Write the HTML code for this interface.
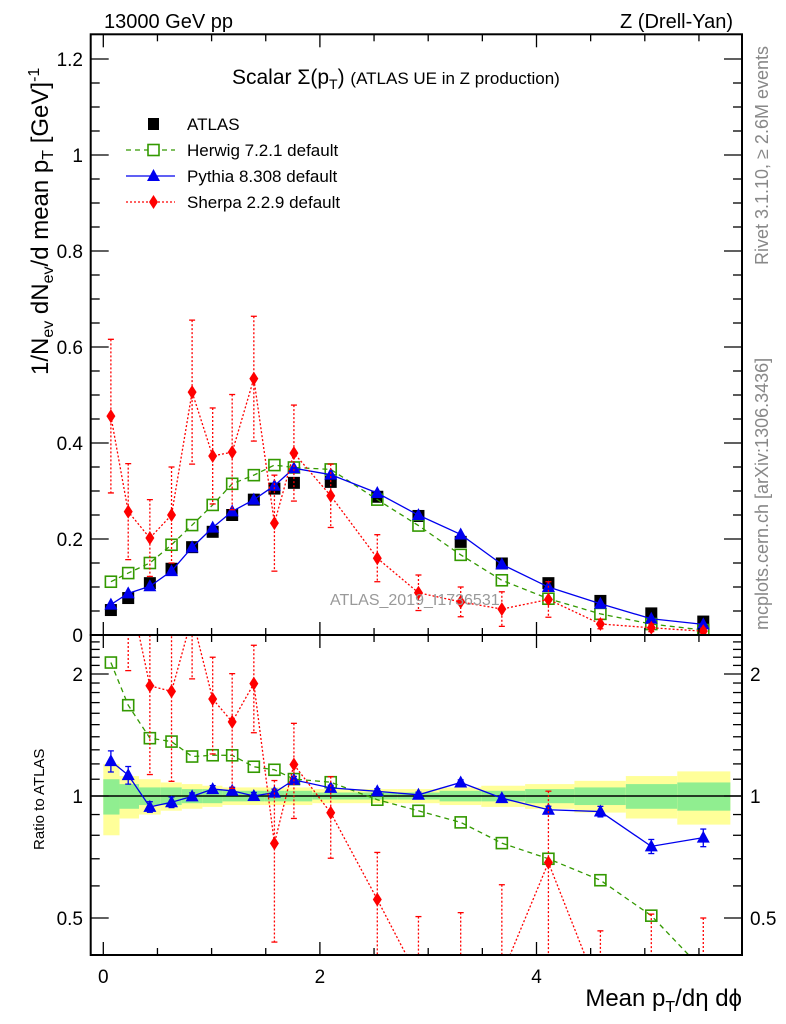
<!DOCTYPE html>
<html><head><meta charset="utf-8"><style>
html,body{margin:0;padding:0;background:#fff;overflow:hidden;width:786px;height:1024px}
svg{display:block;position:absolute;left:0;top:0;font-family:"Liberation Sans",sans-serif}
</style></head><body>
<svg id="c" width="786" height="1024" xmlns="http://www.w3.org/2000/svg">
<g id="g"></g>
<g font-family="Liberation Sans, sans-serif">
<text x="104" y="28" font-size="20">13000 GeV pp</text>
<text x="733" y="28" font-size="20" text-anchor="end">Z (Drell-Yan)</text>
<text x="232" y="84" font-size="21">Scalar Σ(p<tspan font-size="14" dy="5">T</tspan><tspan dy="-5">) </tspan><tspan font-size="17">(ATLAS UE in Z production)</tspan></text>
<g>
<rect x="148" y="118" width="11" height="12" fill="#000"/>
<text x="187" y="130" font-size="17">ATLAS</text>
<line x1="126" x2="175" y1="150" y2="150" stroke="#339900" stroke-width="1.3" stroke-dasharray="5,4"/>
<rect x="148" y="144.5" width="11" height="11" fill="#fff" stroke="#339900" stroke-width="1.6"/>
<text x="187" y="156" font-size="17">Herwig 7.2.1 default</text>
<line x1="126" x2="175" y1="176" y2="176" stroke="#0000ee" stroke-width="1.3"/>
<polygon points="153.5,169 147,181 160,181" fill="#0000ee"/>
<text x="187" y="182" font-size="17">Pythia 8.308 default</text>
<line x1="126" x2="175" y1="202" y2="202" stroke="#ff0000" stroke-width="1.3" stroke-dasharray="2,2"/>
<polygon points="153.5,195 149,202 153.5,209 158,202" fill="#ff0000"/>
<text x="187" y="208" font-size="17">Sherpa 2.2.9 default</text>
</g>
<text x="330" y="605" font-size="16" fill="#999">ATLAS_2019_I1736531</text>
<text transform="translate(48,375) rotate(-90)" font-size="24">1/N<tspan font-size="16" dy="5">ev</tspan><tspan dy="-5"> dN</tspan><tspan font-size="16" dy="5">ev</tspan><tspan dy="-5">/d mean p</tspan><tspan font-size="16" dy="5">T</tspan><tspan dy="-5"> [GeV]</tspan><tspan font-size="16" dy="-9">-1</tspan></text>
<text transform="translate(44,850) rotate(-90)" font-size="15">Ratio to ATLAS</text>
<text transform="translate(768,265) rotate(-90)" font-size="18" fill="#888">Rivet 3.1.10, ≥ 2.6M events</text>
<text transform="translate(768,630) rotate(-90)" font-size="18" fill="#888">mcplots.cern.ch [arXiv:1306.3436]</text>
<text x="742" y="1006" font-size="24" text-anchor="end">Mean p<tspan font-size="16" dy="6">T</tspan><tspan dy="-6">/dη dϕ</tspan></text>
</g>
</svg>
<script>
const xVals=[0.07,0.23,0.43,0.63,0.82,1.01,1.19,1.39,1.58,1.76,2.1,2.53,2.91,3.3,3.68,4.11,4.59,5.06,5.54];
const atlas=[0.052,0.077,0.108,0.138,0.183,0.215,0.25,0.282,0.305,0.317,0.319,0.288,0.248,0.194,0.149,0.108,0.071,0.045,0.028];
const herwig=[0.111,0.129,0.150,0.188,0.229,0.271,0.315,0.333,0.354,0.349,0.345,0.282,0.228,0.167,0.114,0.0756,0.044,0.0228,0.0104];
const pythia=[0.0634,0.0867,0.1015,0.1332,0.1826,0.2236,0.2575,0.282,0.311,0.3474,0.334,0.2958,0.2497,0.2095,0.1472,0.0999,0.065,0.0338,0.0221];
const sherpa=[0.456,0.257,0.202,0.25,0.506,0.373,0.381,0.534,0.233,0.379,0.29,0.16,0.088,0.069,0.054,0.074,0.023,0.015,0.008];
const sherpaErr=[0.16,0.1,0.08,0.1,0.15,0.1,0.12,0.13,0.1,0.1,0.066,0.049,0.037,0.031,0.036,0.037,0.01,0.008,0.006];
const pythiaRelErr=[0.06,0.05,0.03,0.03,0.02,0.02,0.02,0.02,0.02,0.02,0.015,0.015,0.015,0.015,0.015,0.02,0.03,0.04,0.05];
const bandYellow=[0.2,0.12,0.1,0.08,0.07,0.06,0.05,0.05,0.05,0.05,0.04,0.04,0.04,0.05,0.06,0.07,0.09,0.12,0.15];
const bandGreen=[0.1,0.07,0.05,0.05,0.04,0.04,0.03,0.03,0.03,0.03,0.02,0.02,0.02,0.03,0.03,0.04,0.05,0.07,0.08];
const yTicks=[0,0.2,0.4,0.6,0.8,1,1.2];
const yTickLabels=["0","0.2","0.4","0.6","0.8","1","1.2"];
const xTicks=[0,2,4];
const rTicks=[0.5,1,2];
const rTickLabels=["0.5","1","2"];

const NS="http://www.w3.org/2000/svg";
const G=document.getElementById('g');
const L=90.7,R=742,T=34.3,MB=635,RB=955;
const X0=103.3,XS=108.3;
const sx=v=>X0+v*XS;
const sy=v=>635-v*480;
const sr=r=>796-122*Math.log2(r);
function el(tag,attrs,parent){const e=document.createElementNS(NS,tag);for(const k in attrs)e.setAttribute(k,attrs[k]);(parent||G).appendChild(e);return e;}

const defs=el('defs',{});
const cp1=el('clipPath',{id:'cm'},defs);el('rect',{x:L,y:T,width:R-L,height:MB-T},cp1);
const cp2=el('clipPath',{id:'cr'},defs);el('rect',{x:L,y:MB,width:R-L,height:RB-MB},cp2);
const gm=el('g',{'clip-path':'url(#cm)'});


const gr=el('g',{'clip-path':'url(#cr)'});



const edges=[0];
for(let i=0;i<xVals.length-1;i++)edges.push((xVals[i]+xVals[i+1])/2);
edges.push(5.79);

for(let i=0;i<xVals.length;i++){
  const x1=sx(edges[i]),x2=sx(edges[i+1]);
  const y=el('rect',{x:x1,y:sr(1+bandYellow[i]),width:x2-x1,height:sr(1-bandYellow[i])-sr(1+bandYellow[i]),fill:'#ffff99'},gr);
  
  
  const g2=el('rect',{x:x1,y:sr(1+bandGreen[i]),width:x2-x1,height:sr(1-bandGreen[i])-sr(1+bandGreen[i]),fill:'#90ee90'},gr);
  
  
}
const one=el('line',{x1:L,x2:R,y1:sr(1),y2:sr(1),stroke:'#000','stroke-width':1.5},gr);



function series(vals,color,dash,name,panel,ratio){
  const pts=vals.map((v,i)=>[sx(xVals[i]),ratio?sr(v/atlas[i]):sy(v)]);
  const p=el('polyline',{points:pts.map(p=>p.join(',')).join(' '),fill:'none',stroke:color,'stroke-width':1.3,'stroke-dasharray':dash},panel);
  
  
  return pts;
}
function marker(kind,x,y,parent){
  let e;
  if(kind==='sq')e=el('rect',{x:x-6,y:y-6,width:12,height:12,fill:'#000'},parent);
  else if(kind==='osq')e=el('rect',{x:x-5.5,y:y-5.5,width:11,height:11,fill:'none',stroke:'#339900','stroke-width':1.6},parent);
  else if(kind==='tri')e=el('polygon',{points:`${x},${y-7} ${x-6.5},${y+5} ${x+6.5},${y+5}`,fill:'#0000ee'},parent);
  else e=el('polygon',{points:`${x},${y-7} ${x-4.5},${y} ${x},${y+7} ${x+4.5},${y}`,fill:'#ff0000'},parent);
  return e;
}
function errbar(x,y1,y2,color,dash,parent){
  const e=el('line',{x1:x,x2:x,y1:y1,y2:y2,stroke:color,'stroke-width':1.3,'stroke-dasharray':dash||'none'},parent);
  
  
  el('line',{x1:x-3,x2:x+3,y1:y1,y2:y1,stroke:color,'stroke-width':1.3},parent);
  el('line',{x1:x-3,x2:x+3,y1:y2,y2:y2,stroke:color,'stroke-width':1.3},parent);
}

atlas.forEach((v,i)=>{const m=marker('sq',sx(xVals[i]),sy(v),gm);

});
series(herwig,'#339900','5,4','herwig',gm,false).forEach(p=>{const m=marker('osq',p[0],p[1],gm);

});
series(pythia,'#0000ee','none','pythia',gm,false).forEach(p=>{const m=marker('tri',p[0],p[1],gm);

});
series(sherpa,'#ff0000','2,2','sherpa',gm,false).forEach((p,i)=>{
  errbar(p[0],sy(sherpa[i]+sherpaErr[i]),sy(sherpa[i]-sherpaErr[i]),'#ff0000','2,2',gm);
  const m=marker('dia',p[0],p[1],gm);
  
  });

series(herwig,'#339900','5,4','herwig-ratio',gr,true).forEach(p=>{const m=marker('osq',p[0],p[1],gr);

});
series(pythia,'#0000ee','none','pythia-ratio',gr,true).forEach((p,i)=>{
  const r=pythia[i]/atlas[i];
  errbar(p[0],sr(r*(1+pythiaRelErr[i])),sr(r*(1-pythiaRelErr[i])),'#0000ee','none',gr);
  const m=marker('tri',p[0],p[1],gr);
  
  });
series(sherpa,'#ff0000','2,2','sherpa-ratio',gr,true).forEach((p,i)=>{
  const r=sherpa[i]/atlas[i],e=sherpaErr[i]/atlas[i];
  errbar(p[0],sr(r+e),sr(Math.max(r-e,0.01)),'#ff0000','2,2',gr);
  const m=marker('dia',p[0],p[1],gr);
  
  });

[[T,MB],[MB,RB]].forEach(([a,b],k)=>{
  const f=el('rect',{x:L,y:a,width:R-L,height:b-a,fill:'none',stroke:'#000','stroke-width':2});
  
  
});
for(let v=0;v<=5.6;v+=0.5){
  const major=Math.abs(v-Math.round(v/2)*2)<1e-6;
  const len=major?13:7;
  [[MB,-1],[T,1],[RB,-1],[MB,1]].forEach(([y,d])=>el('line',{x1:sx(v),x2:sx(v),y1:y,y2:y+d*len,stroke:'#000','stroke-width':1.3}));
}
for(let v=0;v<=1.25;v+=0.05){
  const major=Math.abs(v/0.2-Math.round(v/0.2))<1e-6;
  const len=major?18:9;
  el('line',{x1:L,x2:L+len,y1:sy(v),y2:sy(v),stroke:'#000','stroke-width':1.3});
  el('line',{x1:R,x2:R-len,y1:sy(v),y2:sy(v),stroke:'#000','stroke-width':1.3});
}
yTicks.forEach((v,i)=>{const t=el('text',{x:83,y:sy(v)+7,'font-size':19,'text-anchor':'end'});t.textContent=yTickLabels[i];

});
const rMinor=[0.5,0.6,0.7,0.8,0.9,1,1.1,1.2,1.3,1.4,1.5,1.6,1.7,1.8,1.9,2,2.1,2.2,2.3,2.4];
rMinor.forEach(v=>{const major=rTicks.includes(v);const len=major?18:9;
  el('line',{x1:L,x2:L+len,y1:sr(v),y2:sr(v),stroke:'#000','stroke-width':1.3});
  el('line',{x1:R,x2:R-len,y1:sr(v),y2:sr(v),stroke:'#000','stroke-width':1.3});});
rTicks.forEach((v,i)=>{
  const t=el('text',{x:83,y:sr(v)+7,'font-size':19,'text-anchor':'end'});t.textContent=rTickLabels[i];
  
  
  const t2=el('text',{x:750,y:sr(v)+7,'font-size':19});t2.textContent=rTickLabels[i];
  
  
});
xTicks.forEach(v=>{const t=el('text',{x:sx(v),y:983,'font-size':19,'text-anchor':'middle'});t.textContent=String(v);

});
</script>
</body></html>
